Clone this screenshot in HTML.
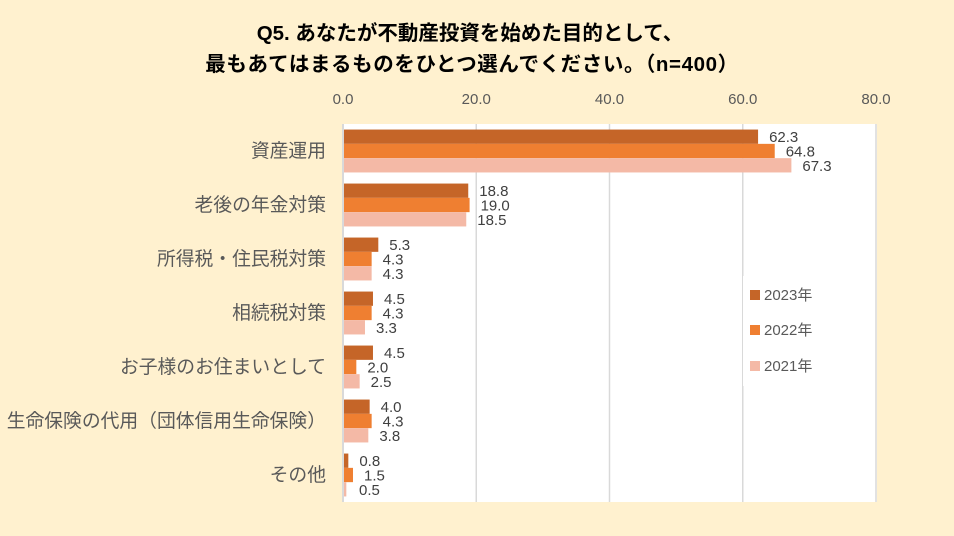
<!DOCTYPE html>
<html><head><meta charset="utf-8"><style>
body{margin:0;background:#fff2cf;}
svg{display:block;font-family:"Liberation Sans","Noto Sans CJK JP",sans-serif;}
</style></head><body>
<svg width="954" height="536" viewBox="0 0 954 536">
<rect x="0" y="0" width="954" height="536" fill="#fff1cf"/>
<text x="470" y="40" text-anchor="middle" font-size="20.5" font-weight="bold" fill="#000">Q5. あなたが不動産投資を始めた目的として、</text>
<text x="472" y="71" text-anchor="middle" font-size="20.5" letter-spacing="0.6" font-weight="bold" fill="#000">最もあてはまるものをひとつ選んでください。（n=400）</text>
<rect x="343" y="124" width="534" height="378" fill="#fff"/>
<g id="grid"></g><g id="bars"></g><g id="labels"></g>
<g>
<rect x="743" y="276" width="80" height="110" fill="#fff"/>
<rect x="750" y="290" width="10" height="10" fill="#c56528"/>
<text x="764" y="300" font-size="15" fill="#595959">2023年</text>
<rect x="750" y="325" width="10" height="10" fill="#ef7f31"/>
<text x="764" y="335" font-size="15" fill="#595959">2022年</text>
<rect x="750" y="361" width="10" height="10" fill="#f4b9a6"/>
<text x="764" y="371" font-size="15" fill="#595959">2021年</text>
</g>
</svg>
<script>
const categories=["資産運用","老後の年金対策","所得税・住民税対策","相続税対策","お子様のお住まいとして","生命保険の代用（団体信用生命保険）","その他"];
const s2023=[62.3,18.8,5.3,4.5,4.5,4.0,0.8];
const s2022=[64.8,19.0,4.3,4.3,2.0,4.3,1.5];
const s2021=[67.3,18.5,4.3,3.3,2.5,3.8,0.5];
const ticks=[0,20,40,60,80];
const NS="http://www.w3.org/2000/svg";
const x0=343,x1=876,y0=124,y1=502;
const xs=v=>x0+(v/80)*(x1-x0);
const gh=(y1-y0)/categories.length;
function mk(t,a,p){const e=document.createElementNS(NS,t);for(const k in a)e.setAttribute(k,a[k]);p.appendChild(e);return e;}
const grid=document.getElementById('grid'),bars=document.getElementById('bars'),labels=document.getElementById('labels');
ticks.forEach(t=>{
 const l=mk('line',{x1:xs(t),x2:xs(t),y1:y0,y2:y1,stroke:'#d9d9d9','stroke-width':t===0?2:1.5},grid);
 
 
 const tx=mk('text',{x:xs(t),y:104,'text-anchor':'middle','font-size':15,fill:'#595959'},grid);
 tx.textContent=t.toFixed(1);
 
 
});
const series=[[s2023,'#c56528','2023'],[s2022,'#ef7f31','2022'],[s2021,'#f4b9a6','2021']];
const bh=14.3;
categories.forEach((c,i)=>{
 const gy=y0+i*gh;
 const cl=mk('text',{x:326,y:gy+gh/2+6,'text-anchor':'end','font-size':18.8,fill:'#595959'},labels);
 cl.textContent=c;
 
 
 series.forEach((s,j)=>{
  const y=gy+gh/2-1.5*bh+j*bh;
  const r=mk('rect',{x:x0+1,y:y,width:xs(s[0][i])-x0-1,height:bh,fill:s[1]},bars);
  
  
  const t=mk('text',{x:Math.max(xs(s[0][i]),x0+5)+11,y:y+bh/2+5.5,'font-size':15,fill:'#404040'},labels);
  t.textContent=s[0][i].toFixed(1);
  
  
 });
});
</script>
</body></html>
